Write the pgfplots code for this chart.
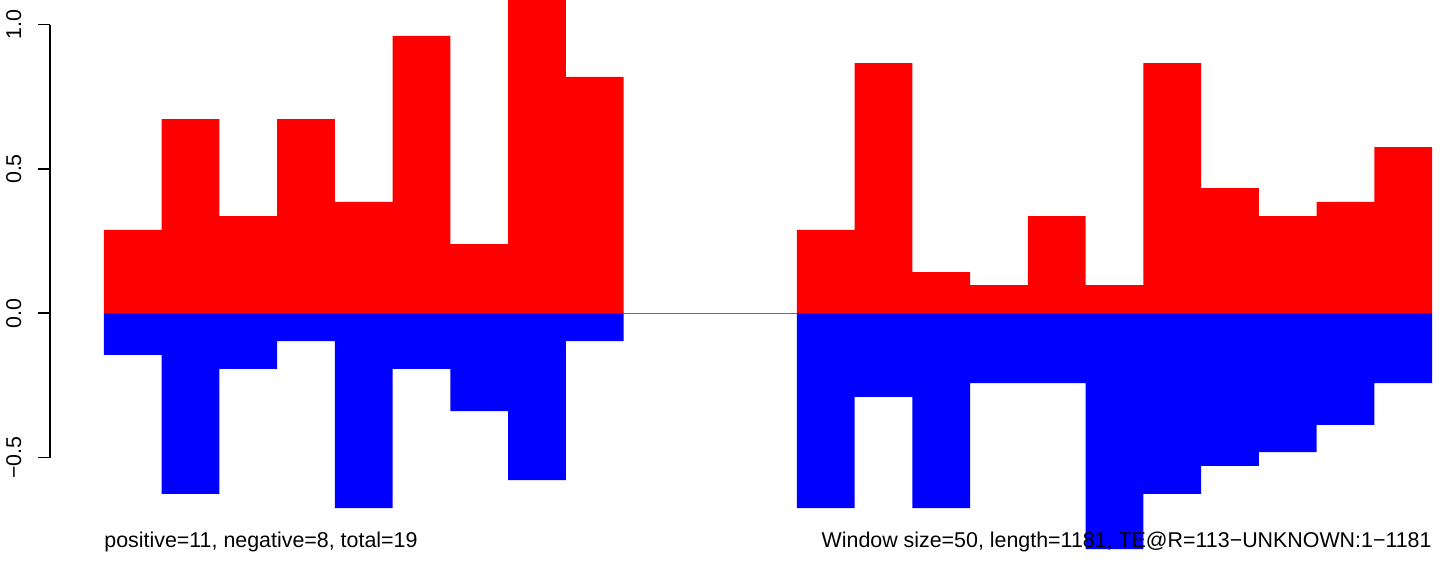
\documentclass[border=0pt]{standalone}
\usepackage{pgfplots}
\pgfplotsset{compat=1.18}
\usepackage{fontspec}
\setmainfont{Liberation Sans}
\definecolor{zline}{RGB}{112,112,112}
\newcommand{\rfont}{\fontsize{10.7bp}{12.8bp}\selectfont}
\begin{document}
\begin{tikzpicture}
\begin{axis}[
  name=main,
  scale only axis,
  width=722bp, height=280.5bp,
  xmin=-1.801, xmax=23.208,
  ymin=-0.8583, ymax=1.0856,
  hide axis,
  clip=true,
]
\addplot[zline, line width=0.55bp, forget plot] coordinates {(0,0) (23,0)};
% positive (red)
\addplot[ybar interval, fill=red, draw=none] coordinates {
  (0,0.289) (1,0.673) (2,0.337) (3,0.673) (4,0.386) (5,0.961) (6,0.240) (7,1.15) (8,0.819) (9,0.819)};
\addplot[ybar interval, fill=red, draw=none] coordinates {
  (12,0.289) (13,0.867) (14,0.143) (15,0.098) (16,0.337) (17,0.098) (18,0.867) (19,0.434) (20,0.337) (21,0.386) (22,0.576) (23,0.576)};
% negative (blue)
\addplot[ybar interval, fill=blue, draw=none] coordinates {
  (0,-0.144) (1,-0.626) (2,-0.193) (3,-0.096) (4,-0.675) (5,-0.193) (6,-0.339) (7,-0.578) (8,-0.096) (9,-0.096)};
\addplot[ybar interval, fill=blue, draw=none] coordinates {
  (12,-0.675) (13,-0.290) (14,-0.675) (15,-0.242) (16,-0.242) (17,-0.817) (18,-0.626) (19,-0.529) (20,-0.481) (21,-0.387) (22,-0.242) (23,-0.242)};
\node[anchor=base west, inner sep=0pt, font=\rfont] at (axis cs:0,-0.813) {positive=11, negative=8, total=19};
\node[anchor=base east, inner sep=0pt, font=\rfont] at (axis cs:23,-0.813) {Window size=50, length=1181, TE@R=113−UNKNOWN:1−1181};
\coordinate (yb) at (axis cs:-0.935,-0.5);
\coordinate (imgbl) at (rel axis cs:0,0);
\coordinate (imgtr) at (rel axis cs:1,1);
\end{axis}
\begin{axis}[
  at={(yb)}, anchor=south west,
  scale only axis,
  width=1bp, height=216.45bp,
  xmin=0, xmax=1, ymin=-0.5, ymax=1,
  axis y line=left, axis x line=none,
  y axis line style={-, line width=0.8bp},
  ytick={-0.5,0,0.5,1},
  yticklabels={−0.5,0.0,0.5,1.0},
  tick align=outside,
  major tick length=6bp,
  ytick style={line width=0.8bp, black},
  yticklabel shift=8.5bp,
  yticklabel style={font=\rfont, rotate=90, anchor=base, inner sep=0pt},
]
\end{axis}
\pgfresetboundingbox
\path[use as bounding box] (imgbl) rectangle (imgtr);
\end{tikzpicture}
\end{document}
